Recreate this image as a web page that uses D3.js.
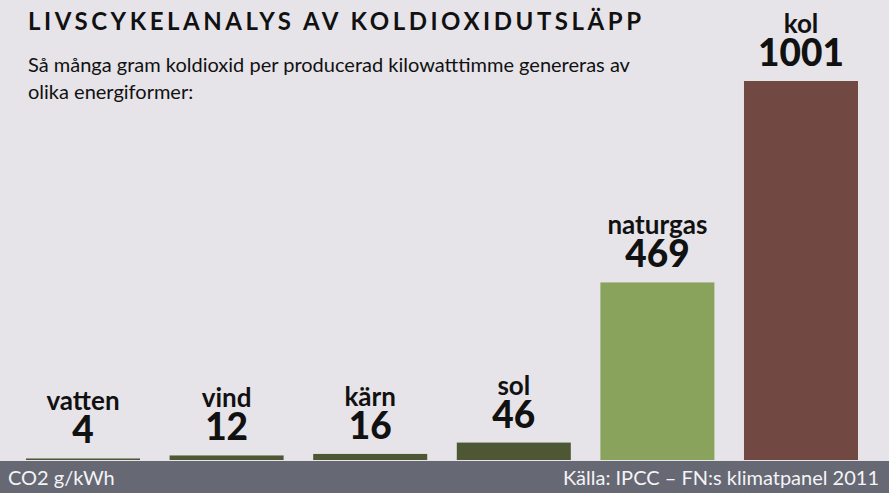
<!DOCTYPE html>
<html>
<head>
<meta charset="utf-8">
<script src="https://cdn.jsdelivr.net/npm/d3@7.9.0/dist/d3.min.js"></script>
<style>
  html, body { margin: 0; padding: 0; background: #e6e4e9; }
  svg { display: block; font-family: Lato, "Open Sans", sans-serif; }
</style>
</head>
<body>
<svg id="chart" width="889" height="493"></svg>
<script>
// Data
const sources = ['vatten', 'vind', 'kärn', 'sol', 'naturgas', 'kol'];
const gramsPerKwh = [4, 12, 16, 46, 469, 1001];
const barColors = ['#4e5533', '#4e5733', '#4e5733', '#4e5733', '#8aa35c', '#714842'];

const title = 'LIVSCYKELANALYS AV KOLDIOXIDUTSLÄPP';
const subtitle = [
  'Så många gram koldioxid per producerad kilowatttimme genereras av',
  'olika energiformer:'
];
const unitLabel = 'CO2 g/kWh';
const sourceLabel = 'Källa: IPCC – FN:s klimatpanel 2011';

const width = 889, height = 493;
const baseline = 460;

const svg = d3.select('#chart');

svg.append('rect')
  .attr('width', width)
  .attr('height', height)
  .attr('fill', '#e6e4e9');

// Scales
const x = d3.scaleBand()
  .domain(sources)
  .range([26, 858])
  .paddingInner(0.206)
  .paddingOuter(0);

const y = d3.scaleLinear()
  .domain([0, 1001])
  .range([baseline, 81]);

const data = sources.map((s, i) => ({ name: s, value: gramsPerKwh[i], color: barColors[i] }));

// Bars
svg.selectAll('rect.bar')
  .data(data)
  .join('rect')
  .attr('class', 'bar')
  .attr('x', d => x(d.name))
  .attr('y', d => y(d.value))
  .attr('width', x.bandwidth())
  .attr('height', d => baseline - y(d.value))
  .attr('fill', d => d.color);

// Labels above bars
const labels = svg.selectAll('g.label')
  .data(data)
  .join('g')
  .attr('class', 'label')
  .attr('transform', d => `translate(${x(d.name) + x.bandwidth() / 2},${y(d.value)})`);

labels.append('text')
  .attr('y', -15)
  .attr('text-anchor', 'middle')
  .attr('font-size', 37)
  .attr('font-weight', 900)
  .attr('fill', '#111')
  .text(d => d.value);

labels.append('text')
  .attr('y', -48)
  .attr('text-anchor', 'middle')
  .attr('font-size', 26)
  .attr('font-weight', 700)
  .attr('fill', '#111')
  .text(d => d.name);

// Title + subtitle
svg.append('text')
  .attr('x', 28)
  .attr('y', 30)
  .attr('font-size', 24)
  .attr('font-weight', 700)
  .attr('fill', '#111')
  .attr('textLength', 613)
  .attr('lengthAdjust', 'spacing')
  .text(title);

svg.selectAll('text.sub')
  .data(subtitle)
  .join('text')
  .attr('class', 'sub')
  .attr('x', 28)
  .attr('y', (d, i) => 72 + i * 27)
  .attr('font-size', 20)
  .attr('fill', '#111')
  .text(d => d);

// Footer
svg.append('rect')
  .attr('y', 461)
  .attr('width', width)
  .attr('height', height - 461)
  .attr('fill', '#666874');

svg.append('text')
  .attr('x', 8)
  .attr('y', 485)
  .attr('font-size', 20)
  .attr('fill', '#f4f4f6')
  .text(unitLabel);

svg.append('text')
  .attr('x', 879)
  .attr('y', 485)
  .attr('text-anchor', 'end')
  .attr('font-size', 20)
  .attr('fill', '#f4f4f6')
  .text(sourceLabel);
</script>
</body>
</html>
